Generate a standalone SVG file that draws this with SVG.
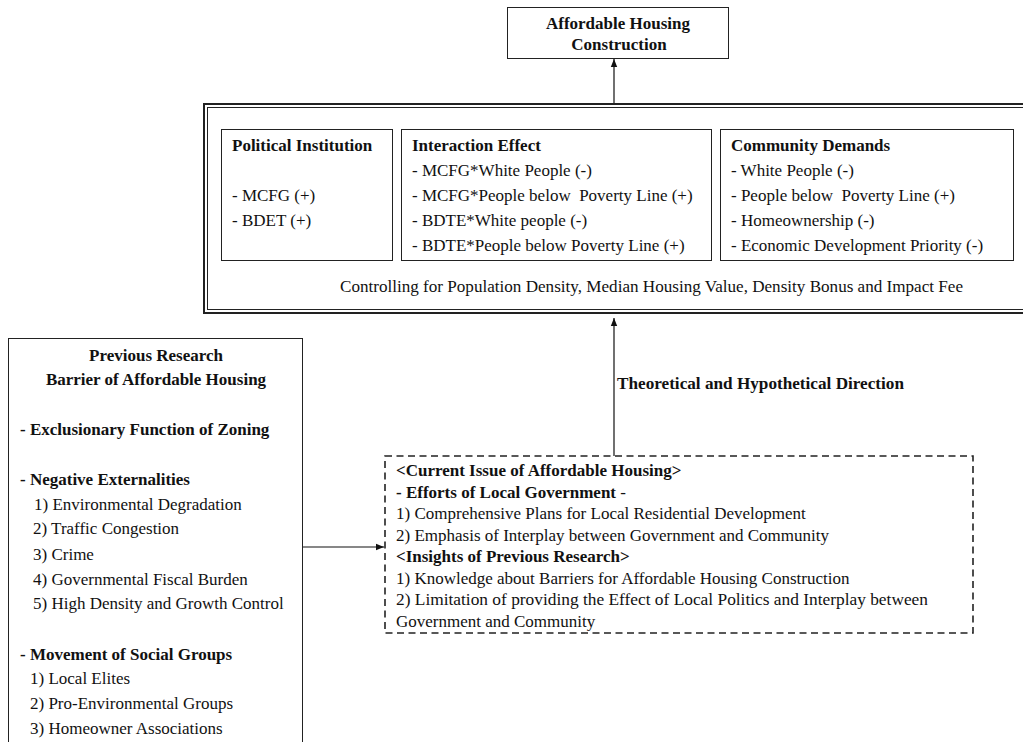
<svg xmlns="http://www.w3.org/2000/svg" width="1023" height="742" viewBox="0 0 1023 742">
<defs>
<style>
text{font-family:"Liberation Serif","Times New Roman",serif;font-size:17px;fill:#111}
.b{font-weight:bold}
.c{text-anchor:middle}
.box{fill:#fff;stroke:#222;stroke-width:1}
.dash{fill:#fff;stroke:#222;stroke-width:1.6;stroke-dasharray:7 4.5}
.conn{stroke:#111;stroke-width:1.2;fill:none}
</style>
<marker id="ah" viewBox="0 0 10 10" refX="10" refY="5" markerWidth="8" markerHeight="8" markerUnits="userSpaceOnUse" orient="auto">
<path d="M0,1 L10,5 L0,9 Z" fill="#111"/>
</marker>
</defs>
<rect width="1023" height="742" fill="#fff"/>

<g id="connectors">
<line class="conn" x1="614" y1="104" x2="614" y2="59" marker-end="url(#ah)"/>
<line class="conn" x1="614" y1="456" x2="614" y2="318" marker-end="url(#ah)"/>
<line class="conn" x1="303" y1="547" x2="384" y2="547" marker-end="url(#ah)"/>
<text class="b" x="617" y="389" textLength="287" lengthAdjust="spacingAndGlyphs">Theoretical and Hypothetical Direction</text>
</g>

<g id="node-construction">
<rect class="box" x="507.5" y="7.5" width="221" height="51"/>
<text class="b c" x="618" y="29">Affordable Housing</text>
<text class="b c" x="619" y="50">Construction</text>
</g>

<g id="node-model">
<rect x="204" y="104" width="840" height="209" fill="#fff" stroke="#222" stroke-width="2"/>
<rect x="207.5" y="107.5" width="840" height="202" fill="none" stroke="#222" stroke-width="1"/>
<text x="340" y="292" textLength="623" lengthAdjust="spacingAndGlyphs">Controlling for Population Density, Median Housing Value, Density Bonus and Impact Fee</text>
</g>

<g id="node-political">
<rect class="box" x="221.5" y="129.5" width="171" height="131"/>
<text class="b" x="232" y="151">Political Institution</text>
<text x="232" y="201">- MCFG (+)</text>
<text x="232" y="226">- BDET (+)</text>
</g>

<g id="node-interaction">
<rect class="box" x="401.5" y="129.5" width="310" height="131"/>
<text class="b" x="412" y="151">Interaction Effect</text>
<text x="412" y="176">- MCFG*White People (-)</text>
<text x="412" y="201">- MCFG*People below&#160; Poverty Line (+)</text>
<text x="412" y="226">- BDTE*White people (-)</text>
<text x="412" y="251">- BDTE*People below Poverty Line (+)</text>
</g>

<g id="node-community">
<rect class="box" x="720.5" y="129.5" width="293" height="131"/>
<text class="b" x="731" y="151">Community Demands</text>
<text x="731" y="176">- White People (-)</text>
<text x="731" y="201">- People below&#160; Poverty Line (+)</text>
<text x="731" y="226">- Homeownership (-)</text>
<text x="731" y="251">- Economic Development Priority (-)</text>
</g>

<g id="node-previous">
<rect class="box" x="8.5" y="338.5" width="294" height="420"/>
<text class="b c" x="156" y="361">Previous Research</text>
<text class="b c" x="156" y="385">Barrier of Affordable Housing</text>
<text class="b" x="20" y="435">- Exclusionary Function of Zoning</text>
<text class="b" x="20" y="485">- Negative Externalities</text>
<text x="34" y="510">1) Environmental Degradation</text>
<text x="33" y="534">2) Traffic Congestion</text>
<text x="33" y="560">3) Crime</text>
<text x="33" y="585">4) Governmental Fiscal Burden</text>
<text x="33" y="609">5) High Density and Growth Control</text>
<text class="b" x="20" y="660">- Movement of Social Groups</text>
<text x="30" y="684">1) Local Elites</text>
<text x="30" y="709">2) Pro-Environmental Groups</text>
<text x="30" y="734">3) Homeowner Associations</text>
</g>

<g id="node-current">
<rect class="dash" x="385" y="456" width="588" height="177"/>
<text class="b" x="396" y="476">&lt;Current Issue of Affordable Housing&gt;</text>
<text x="396" y="497.5"><tspan class="b">- Efforts of Local Government</tspan> -</text>
<text x="396" y="519">1) Comprehensive Plans for Local Residential Development</text>
<text x="396" y="540.5">2) Emphasis of Interplay between Government and Community</text>
<text class="b" x="396" y="562">&lt;Insights of Previous Research&gt;</text>
<text x="396" y="583.5">1) Knowledge about Barriers for Affordable Housing Construction</text>
<text x="396" y="605" textLength="532" lengthAdjust="spacingAndGlyphs">2) Limitation of providing the Effect of Local Politics and Interplay between</text>
<text x="396" y="626.5">Government and Community</text>
</g>
</svg>
